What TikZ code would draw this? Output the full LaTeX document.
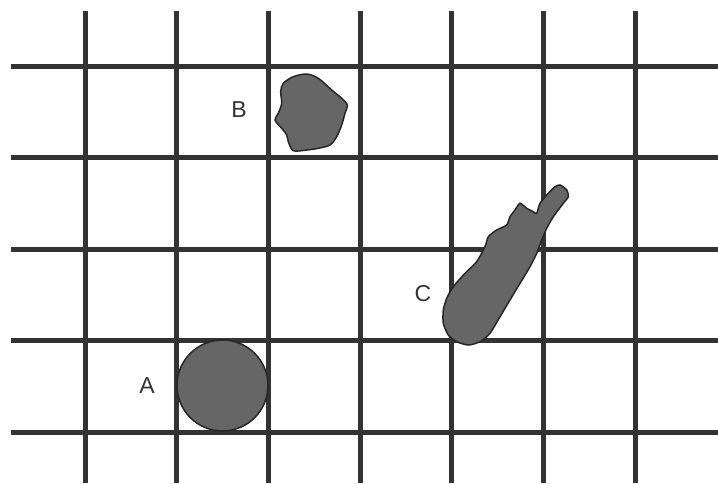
\documentclass[tikz,border=0pt]{standalone}
\usepackage{fontspec}
\setmainfont{Liberation Sans}
\usepackage{tikz}
\usetikzlibrary{positioning}

\begin{document}
\begin{tikzpicture}[x=1pt,y=-1pt]
            \tikzset{gridline/.style={line width=5pt,color=black!80},
                     blob/.style={fill=black!60,draw=black!85,line width=1.5pt},
                     tag/.style={font=\fontsize{23}{25}\selectfont,text=black!80,inner sep=0pt}}
            \useasboundingbox (0,0) rectangle (718,483);
            % grid
            \foreach \gx in {0,...,6}
                \draw [gridline] (85+91.67*\gx,11) -- (85+91.67*\gx,483);
            \foreach \gy in {0,...,4}
                \draw [gridline] (11,66+91.5*\gy) -- (718,66+91.5*\gy);
            % particle A
            \draw [blob] (222.5,385.5) circle (45.5);
            \node [tag] (labA) at (147,386) {A};
            % particle B
            \draw [blob] plot [smooth cycle, tension=0.5] coordinates {
                (283.3,83.3) (293.3,76.7) (306.7,74) (318.3,78.3) (331.7,90)
                (341.7,98.3) (347.3,105) (345,113.3) (341.7,125) (336.7,136.7)
                (330,145) (318.3,148.3) (306.7,150) (293.3,150.7) (288.3,141.7)
                (286.7,135) (281.7,128.3) (275,120) (278.3,113.3) (281.7,103.3)
                (280.7,91.7)};
            \node [tag] (labB) at (239,110) {B};
            % particle C
            \draw [blob] plot [smooth cycle, tension=0.4] coordinates {
                (560,185) (566.7,190) (568.3,196.7) (563.3,203.3) (553.3,216.7)
                (546.7,228.3) (541.7,240) (536.7,253.3) (530,266.7) (520,283.3)
                (510,300) (500,316.7) (490,333.3) (480,341.7) (468.3,345)
                (456.7,341.7) (448.3,335) (443.3,323.3) (443.3,310) (446.7,298.3)
                (453.3,286.7) (465,273.3) (476.7,261.7) (485,246.7) (488.3,236.7)
                (496.7,230) (506.7,225) (510,216.7) (515,210) (520,203.3)
                (526.7,208.3) (533.3,211.7) (536.7,213.3) (540,203.3) (548.3,193.3)
                (555,186.7)};
            \node [tag] (labC) at (423,294) {C};
\end{tikzpicture}
\end{document}
